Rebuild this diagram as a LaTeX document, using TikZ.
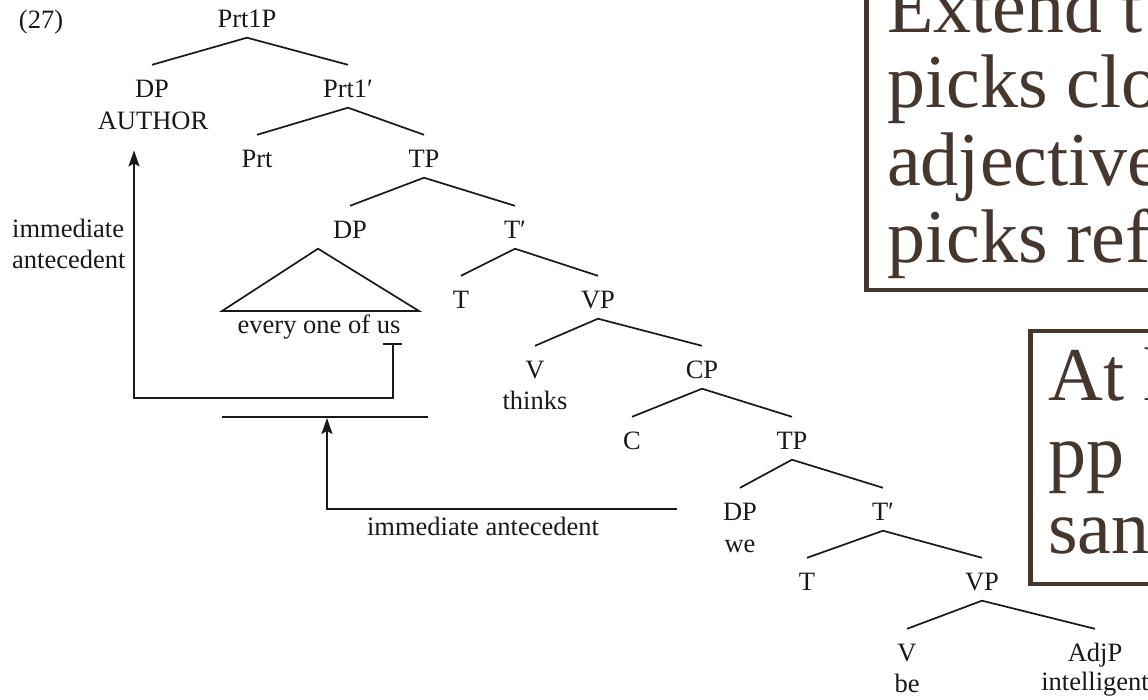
\documentclass[tikz,border=0pt]{standalone}
\usepackage{fontspec}
\setmainfont{Liberation Serif}
\usetikzlibrary{arrows.meta}
\definecolor{boxbrown}{RGB}{69,54,46}
\definecolor{ink}{RGB}{25,25,25}

\begin{document}
\begin{tikzpicture}[x=1pt,y=-1pt,
  lbl/.style={font=\fontsize{26.5}{30}\selectfont, text=ink, inner sep=0pt,
              anchor=base, text height=32pt, text depth=10.5pt},
  sub/.style={font=\fontsize{26.5}{30}\selectfont, text=ink, inner sep=0pt, anchor=base},
  branch/.style={line width=1.7pt, draw=ink},
  link/.style={line width=1.6pt, draw=ink},
  arr/.style={link, -{Stealth[length=16pt,width=11pt,inset=3pt]}},
  note/.style={font=\fontsize{76}{77}\selectfont, text=boxbrown, inner sep=0pt, anchor=base west},
  panel/.style={draw=boxbrown, line width=4.5pt}
]
\useasboundingbox (0,0) rectangle (1148,699);
\fill[white] (0,0) rectangle (1148,699);
\clip (0,0) rectangle (1148,699);

% example number
\node[sub] (exnum) at (41,28) {(27)};

% tree labels, one row every ~70.5pt
\node[lbl] (prt1p)  at (247,27)  {Prt1P};
\node[lbl] (dpA)    at (152,97)  {DP};
\node[sub] (author) at (153,129) {AUTHOR};
\node[lbl] (prt1b)  at (348,97)  {Prt1′};
\node[lbl] (prt)    at (257,167) {Prt};
\node[lbl] (tp1)    at (424,167) {TP};
\node[lbl] (dpE)    at (350,238) {DP};
\node[lbl] (tb1)    at (515,238) {T′};
\node[lbl] (t1)     at (461,308) {T};
\node[lbl] (vp1)    at (598,308) {VP};
\node[lbl] (v1)     at (535,378) {V};
\node[sub] (thinks) at (535,409) {thinks};
\node[lbl] (cp)     at (702,378) {CP};
\node[lbl] (c1)     at (632,449) {C};
\node[lbl] (tp2)    at (792,449) {TP};
\node[lbl] (dpW)    at (740,520) {DP};
\node[sub] (we)     at (740,552) {we};
\node[lbl] (tb2)    at (883,520) {T′};
\node[lbl] (t2)     at (807,590) {T};
\node[lbl] (vp2)    at (982,590) {VP};
\node[lbl] (v2)     at (907,661) {V};
\node[sub] (be)     at (907,692) {be};
\node[lbl] (adjp)   at (1095,661) {AdjP};
\node[sub] (intel)  at (1095,690) {intelligent};

% branches
\foreach \p/\c in {prt1p/dpA, prt1p/prt1b, prt1b/prt, prt1b/tp1, tp1/dpE, tp1/tb1,
                   tb1/t1, tb1/vp1, vp1/v1, vp1/cp, cp/c1, cp/tp2, tp2/dpW, tp2/tb2,
                   tb2/t2, tb2/vp2, vp2/v2, vp2/adjp}
  \draw[branch] (\p.south) -- (\c.north);

% unanalysed DP
\node[sub] (every) at (319,333) {every one of us};
\coordinate (apex) at ([xshift=-32pt]dpE.south);
\draw[branch] (apex) -- (222,311) -- (419,311) -- cycle;

% upper binding arrow: from "us" to AUTHOR
\coordinate (usTick) at (393,344);
\coordinate (leftCorner) at (134,398);
\draw[link] ([xshift=-10pt]usTick) -- ([xshift=9pt]usTick);
\draw[arr, shorten >=21pt] (usTick) |- (leftCorner) -- (leftCorner |- author.south);
\node[sub, anchor=base west] (upLabA) at (12,237) {immediate};
\node[sub, anchor=base west] (upLabB) at (12,268) {antecedent};

% lower binding arrow: from "we" to the bar under the DP
\coordinate (bar) at (327,417);
\draw[link] (222,417) -- (428,417);
\coordinate (weStart) at ([xshift=-46pt]dpW.west);
\draw[arr, shorten >=1pt] (weStart) -| (bar);
\node[sub] (lowLab) at (483,535) {immediate antecedent};

% note panels
\draw[panel] (866.5,-30) rectangle (1180,290);
\node[note] (nA) at (887,32)  {Extend t};
\node[note] (nB) at (887,107) {picks clo};
\node[note] (nC) at (887,185) {adjective};
\node[note] (nD) at (887,262) {picks ref};

\draw[panel, fill=white] (1030.5,331) rectangle (1180,584);
\node[note] (mA) at (1048,400) {At l};
\node[note] (mB) at (1048,477) {pp};
\node[note] (mC) at (1048,553) {san};
\end{tikzpicture}
\end{document}
